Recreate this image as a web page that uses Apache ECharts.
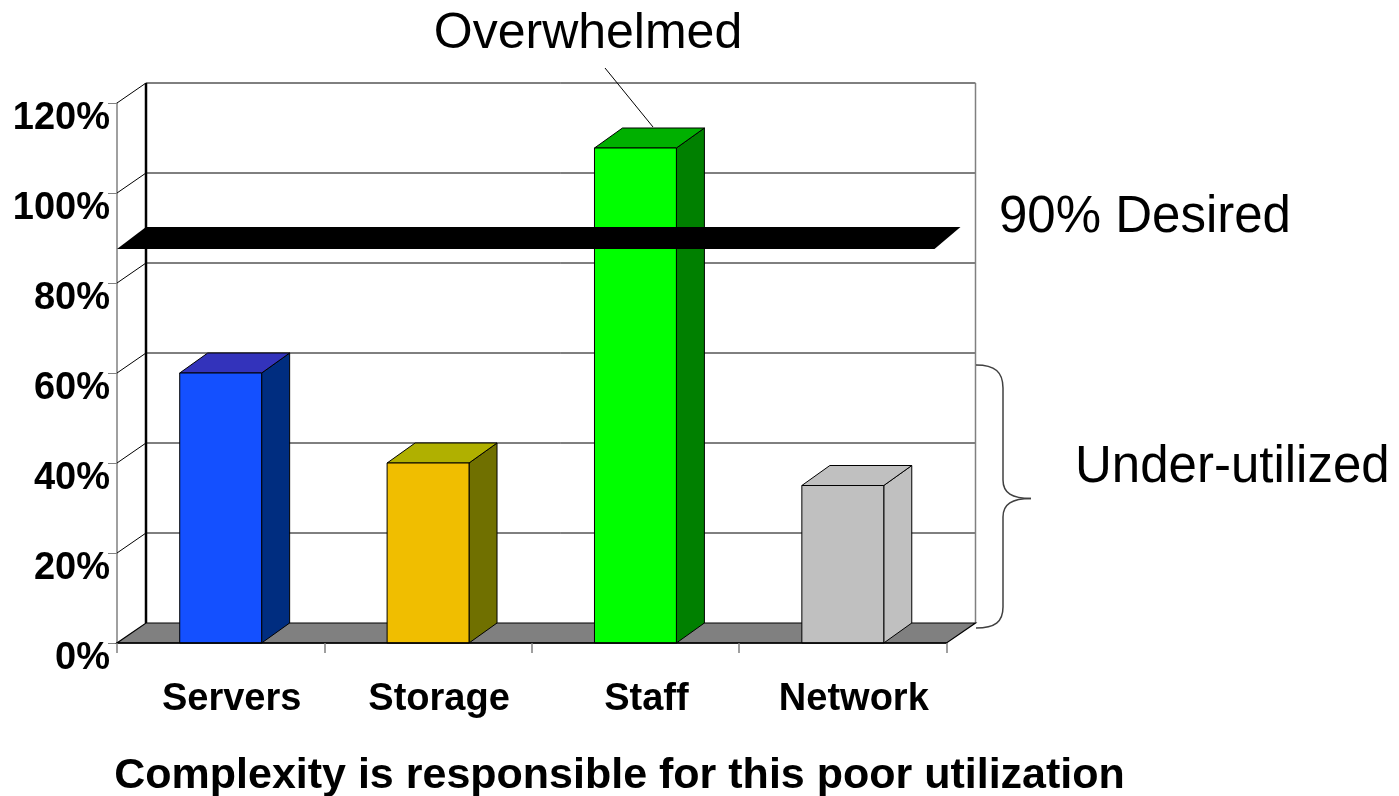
<!DOCTYPE html>
<html>
<head>
<meta charset="utf-8">
<script src="https://cdn.jsdelivr.net/npm/echarts@6/dist/echarts.min.js"></script>
<style>
html,body{margin:0;padding:0;background:#fff;}
#chart{width:1399px;height:796px;}
</style>
</head>
<body>
<div id="chart"></div>
<script>
// ---- data ----
const categories = ['Servers', 'Storage', 'Staff', 'Network'];
const utilization = [60, 40, 110, 35];
const desired = 90;
const yTicks = [0, 20, 40, 60, 80, 100, 120];

// ---- styles ----
const frontColors = ['#1450FF', '#F0BE00', '#00FF00', '#C0C0C0'];
const topColors   = ['#3333BB', '#B0B000', '#00B000', '#C0C0C0'];
const sideColors  = ['#002D80', '#707000', '#008000', '#C0C0C0'];
const DX = 29, DY = -20;
const FONT = 'Liberation Sans, Arial, sans-serif';

const chart = echarts.init(document.getElementById('chart'), null, {renderer: 'canvas'});

function wallRender(params, api) {
  const cs = params.coordSys;
  const v = api.value(0);
  const y = api.coord([0, v])[1];
  const L = cs.x, R = cs.x + cs.width;
  const children = [];
  if (v > 0) {
    children.push({type: 'line', shape: {x1: L, y1: y, x2: L + DX, y2: y + DY},
      style: {stroke: '#000', lineWidth: 1}});
    children.push({type: 'line', shape: {x1: L + DX, y1: y + DY, x2: R + DX, y2: y + DY},
      style: {stroke: '#000', lineWidth: 1}});
  }
  return {type: 'group', children};
}

function frameRender(params, api) {
  const cs = params.coordSys;
  const L = cs.x, R = cs.x + cs.width, T = cs.y, B = cs.y + cs.height;
  return {type: 'group', children: [
    {type: 'line', shape: {x1: R + DX, y1: T + DY, x2: R + DX, y2: B + DY},
      style: {stroke: '#808080', lineWidth: 1.5}},
    {type: 'line', shape: {x1: L + DX, y1: T + DY, x2: L + DX, y2: B + DY},
      style: {stroke: '#000', lineWidth: 2.5}},
    {type: 'polygon', shape: {points: [[L, B], [R, B], [R + DX, B + DY], [L + DX, B + DY]]},
      style: {fill: '#808080', stroke: '#000', lineWidth: 1.2}}
  ]};
}

function barRender(params, api) {
  const idx = api.value(0), v = api.value(1);
  const base = api.coord([idx, 0]);
  const top = api.coord([idx, v]);
  const bw = api.size([1, 0])[0] * 0.395;
  const x0 = base[0] - bw / 2, x1 = x0 + bw, yb = base[1], yt = top[1];
  const st = {stroke: '#000', lineWidth: 1};
  return {type: 'group', children: [
    {type: 'polygon', shape: {points: [[x1, yt], [x1 + DX - 1, yt + DY], [x1 + DX - 1, yb + DY], [x1, yb]]},
      style: Object.assign({fill: sideColors[idx]}, st)},
    {type: 'polygon', shape: {points: [[x0, yt], [x1, yt], [x1 + DX - 1, yt + DY], [x0 + DX - 1, yt + DY]]},
      style: Object.assign({fill: topColors[idx]}, st)},
    {type: 'rect', shape: {x: x0, y: yt, width: bw, height: yb - yt},
      style: Object.assign({fill: frontColors[idx]}, st)}
  ]};
}

function bandRender(params, api) {
  const cs = params.coordSys;
  const L = cs.x, R = cs.x + cs.width;
  const y = api.coord([0, api.value(0)])[1];
  return {type: 'polygon', shape: {points: [[L, y + 11], [R - 12, y + 11], [R + 14, y - 11], [L + DX, y - 11]]},
    style: {fill: '#000'}};
}

function labelRender(params, api) {
  const idx = api.value(0);
  const p = api.coord([idx, 0]);
  return {type: 'text', x: p[0] + 11, y: p[1] + 57,
    style: {text: categories[idx], fill: '#000', font: 'bold 38px ' + FONT,
      align: 'center', verticalAlign: 'middle'}};
}

const braceStyle = {stroke: '#404040', lineWidth: 1.5, fill: null};

const option = {
  backgroundColor: '#fff',
  animation: false,
  grid: {left: 117, top: 103, width: 829.5, height: 540},
  xAxis: {
    type: 'category', data: categories, boundaryGap: true, z: 10,
    axisLine: {show: true, lineStyle: {color: '#000', width: 1.5}},
    axisTick: {show: true, length: 10, interval: 0, lineStyle: {color: '#808080', width: 1.5}},
    axisLabel: {show: false},
    splitLine: {show: false}
  },
  yAxis: {
    type: 'value', min: 0, max: 120, interval: 20,
    axisLine: {show: true, lineStyle: {color: '#808080', width: 1.5}},
    axisTick: {show: true, length: 9, lineStyle: {color: '#808080', width: 1}},
    splitLine: {show: false},
    axisLabel: {formatter: '{value}%', fontSize: 38, fontWeight: 'bold', color: '#000',
      fontFamily: FONT, margin: 7, verticalAlign: 'top', lineHeight: 30.6}
  },
  series: [
    {type: 'custom', z: 1, renderItem: wallRender, data: yTicks.map(v => [v]), silent: true},
    {type: 'custom', z: 2, renderItem: frameRender, data: [[0]], silent: true},
    {type: 'custom', z: 3, renderItem: barRender,
      data: utilization.map((v, i) => [i, v]), silent: true},
    {type: 'custom', z: 4, renderItem: bandRender, data: [[desired]], silent: true},
    {type: 'custom', z: 4, renderItem: labelRender,
      data: categories.map((c, i) => [i]), silent: true}
  ],
  graphic: [
    {type: 'line', shape: {x1: 605, y1: 68, x2: 653, y2: 127}, style: {stroke: '#000', lineWidth: 1}, z: 100},
    {type: 'text', x: 588, y: 34.7, z: 100,
      style: {text: 'Overwhelmed', font: '50px ' + FONT, fill: '#000', align: 'center', verticalAlign: 'middle'}},
    {type: 'text', x: 999, y: 218.3, z: 100,
      style: {text: '90% Desired', font: '51px ' + FONT, fill: '#000', align: 'left', verticalAlign: 'middle'}},
    {type: 'text', x: 1075, y: 468.3, z: 100,
      style: {text: 'Under-utilized', font: '51px ' + FONT, fill: '#000', align: 'left', verticalAlign: 'middle'}},
    {type: 'bezierCurve', z: 100, shape: {x1: 976, y1: 365, cpx1: 995, cpy1: 365, cpx2: 1003, cpy2: 372, x2: 1003, y2: 388}, style: braceStyle},
    {type: 'line', z: 100, shape: {x1: 1003, y1: 388, x2: 1003, y2: 480}, style: braceStyle},
    {type: 'bezierCurve', z: 100, shape: {x1: 1003, y1: 480, cpx1: 1003, cpy1: 493, cpx2: 1012, cpy2: 498.5, x2: 1031, y2: 498.5}, style: braceStyle},
    {type: 'bezierCurve', z: 100, shape: {x1: 1031, y1: 498.5, cpx1: 1012, cpy1: 498.5, cpx2: 1003, cpy2: 504, x2: 1003, y2: 517}, style: braceStyle},
    {type: 'line', z: 100, shape: {x1: 1003, y1: 517, x2: 1003, y2: 607}, style: braceStyle},
    {type: 'bezierCurve', z: 100, shape: {x1: 1003, y1: 607, cpx1: 1003, cpy1: 622, cpx2: 995, cpy2: 628, x2: 976, y2: 628}, style: braceStyle},
    {type: 'text', x: 619.5, y: 776, z: 100,
      style: {text: 'Complexity is responsible for this poor utilization', font: 'bold 43px ' + FONT,
        fill: '#000', align: 'center', verticalAlign: 'middle'}}
  ]
};
chart.setOption(option);
</script>
</body>
</html>
